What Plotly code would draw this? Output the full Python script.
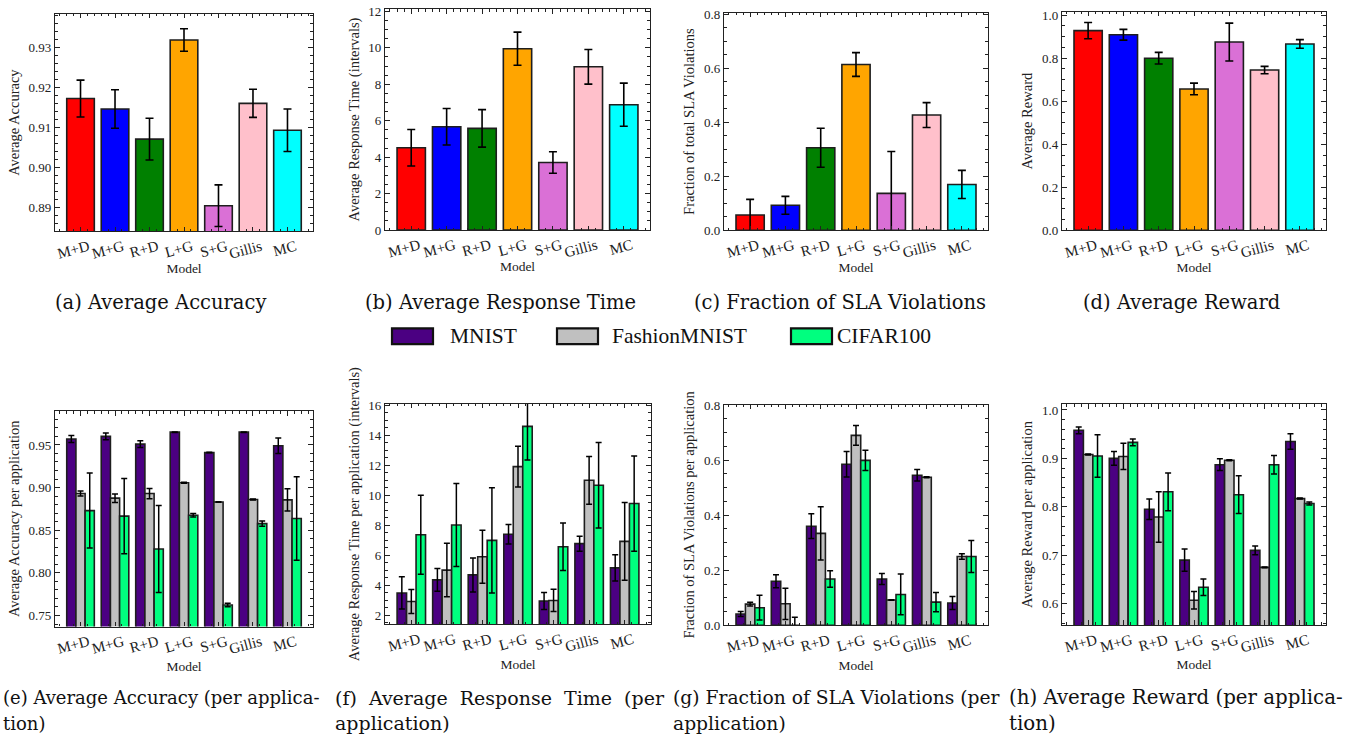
import plotly.graph_objects as go

W, H = 1353, 745


def px(x):
    return x / W


def py(y):
    return 1 - y / H


models = ["M+D", "M+G", "R+D", "L+G", "S+G", "Gillis", "MC"]
model_colors = ["#FF0000", "#0000FF", "#008000", "#FFA500", "#DA70D6", "#FFC0CB", "#00FFFF"]

acc_mean = [0.9172, 0.9146, 0.9071, 0.9318, 0.8905, 0.9160, 0.9093]
acc_err = [0.0046, 0.0048, 0.0052, 0.0028, 0.0052, 0.0035, 0.0053]
rt_mean = [4.52, 5.67, 5.58, 9.95, 3.71, 8.96, 6.88]
rt_err = [1.0, 1.0, 1.03, 0.91, 0.59, 0.95, 1.18]
sla_mean = [0.057, 0.093, 0.306, 0.614, 0.137, 0.427, 0.170]
sla_err = [0.058, 0.033, 0.072, 0.044, 0.155, 0.046, 0.052]
rew_mean = [0.928, 0.909, 0.800, 0.657, 0.875, 0.745, 0.866]
rew_err = [0.038, 0.025, 0.027, 0.027, 0.088, 0.017, 0.020]

datasets = ["MNIST", "FashionMNIST", "CIFAR100"]
dataset_colors = ["#4B0082", "#C0C0C0", "#00FF7F"]

app_acc_mean = [
    [0.957, 0.960, 0.951, 0.965, 0.941, 0.965, 0.949],
    [0.893, 0.8876, 0.893, 0.9056, 0.883, 0.886, 0.8856],
    [0.873, 0.8665, 0.828, 0.8676, 0.7623, 0.8577, 0.8638],
]
app_acc_err = [
    [0.004, 0.004, 0.004, 0.0003, 0.0003, 0.0003, 0.009],
    [0.003, 0.005, 0.006, 0.0005, 0.0003, 0.0005, 0.013],
    [0.044, 0.044, 0.051, 0.002, 0.002, 0.003, 0.049],
]
app_rt_mean = [
    [3.5, 4.37, 4.70, 7.41, 2.96, 6.78, 5.17],
    [2.93, 5.02, 5.91, 11.91, 3.0, 11.0, 6.93],
    [7.37, 8.02, 7.0, 14.59, 6.57, 10.67, 9.45],
]
app_rt_err = [
    [1.07, 0.76, 1.13, 0.65, 0.57, 0.5, 0.87],
    [0.8, 1.78, 1.76, 1.35, 0.74, 1.59, 2.59],
    [2.63, 2.76, 3.5, 2.24, 1.58, 2.85, 3.17],
]
app_sla_mean = [
    [0.041, 0.160, 0.360, 0.585, 0.168, 0.545, 0.081],
    [0.077, 0.078, 0.334, 0.690, 0.092, 0.538, 0.250],
    [0.064, 0.0, 0.168, 0.599, 0.112, 0.084, 0.250],
]
app_sla_err = [
    [0.009, 0.024, 0.045, 0.046, 0.02, 0.021, 0.024],
    [0.007, 0.057, 0.097, 0.036, 0.001, 0.002, 0.01],
    [0.045, 0.029, 0.03, 0.037, 0.074, 0.035, 0.058],
]
app_rew_mean = [
    [0.958, 0.900, 0.795, 0.690, 0.887, 0.710, 0.935],
    [0.908, 0.904, 0.779, 0.607, 0.896, 0.675, 0.817],
    [0.905, 0.933, 0.831, 0.634, 0.825, 0.887, 0.807],
]
app_rew_err = [
    [0.007, 0.014, 0.021, 0.023, 0.012, 0.009, 0.016],
    [0.001, 0.027, 0.052, 0.018, 0.001, 0.001, 0.001],
    [0.044, 0.007, 0.039, 0.017, 0.039, 0.019, 0.003],
]

top_captions = ["(a) Average Accuracy", "(b) Average Response Time",
                "(c) Fraction of SLA Violations", "(d) Average Reward"]
bottom_captions = [
    ["(e) Average Accuracy (per applica-", "tion)"],
    ["(f)  Average  Response  Time  (per", "application)"],
    ["(g) Fraction of SLA Violations (per", "application)"],
    ["(h) Average Reward (per applica-", "tion)"],
]

FONT = "Liberation Serif"
CAP_FONT = "DejaVu Serif"
EDGE = "#1e1e1e"

# panel geometry in pixels: (x0, x1, ytop, ybottom)
panels = [
    (55, 313, 7, 229), (385, 650, 2, 227.7), (724, 988, 6, 228), (1062, 1326, 5, 228),
    (55, 313, 412.3, 632.3), (385, 651, 405, 630), (724, 988, 405.7, 631), (1062, 1326, 405.3, 630.7),
]
yspecs = [
    ("Average Accuracy", [0.8841, 0.9383], 0.01, 0.002, ".2f"),
    ("Average Response Time (intervals)", [0, 12.13], 2, 0.5, "d"),
    ("Fraction of total SLA Violations", [0, 0.805], 0.2, 0.05, ".1f"),
    ("Average Reward", [0, 1.015], 0.2, 0.05, ".1f"),
    ("Average Accuracy per application", [0.737, 0.9898], 0.05, 0.01, ".2f"),
    ("Average Response Time per application (intervals)", [1.41, 16.09], 2, 0.5, "d"),
    ("Fraction of SLA Violations per application", [0, 0.802], 0.2, 0.05, ".1f"),
    ("Average Reward per application", [0.556, 1.012], 0.1, 0.02, ".1f"),
]

fig = go.Figure()
xs = list(range(len(models)))

top_data = [(acc_mean, acc_err), (rt_mean, rt_err), (sla_mean, sla_err), (rew_mean, rew_err)]
for i, (m, e) in enumerate(top_data):
    sfx = "" if i == 0 else str(i + 1)
    fig.add_trace(go.Bar(
        x=xs, y=m, xaxis="x" + sfx, yaxis="y" + sfx,
        marker=dict(color=model_colors, line=dict(color=EDGE, width=1.6)),
        error_y=dict(type="data", array=e, color="black", thickness=1.6, width=4),
        showlegend=False,
    ))

bottom_data = [(app_acc_mean, app_acc_err), (app_rt_mean, app_rt_err),
               (app_sla_mean, app_sla_err), (app_rew_mean, app_rew_err)]
for i, (mm, ee) in enumerate(bottom_data):
    sfx = str(i + 5)
    for d, name in enumerate(datasets):
        fig.add_trace(go.Bar(
            x=xs, y=mm[d], name=name, xaxis="x" + sfx, yaxis="y" + sfx,
            marker=dict(color=dataset_colors[d], line=dict(color=EDGE, width=1.6)),
            error_y=dict(type="data", array=ee[d], color="black", thickness=1.5, width=3),
            showlegend=False,
        ))

layout = dict(
    width=W, height=H, margin=dict(l=0, r=0, t=0, b=0),
    paper_bgcolor="white", plot_bgcolor="white",
    barmode="group", bargap=0.2, bargroupgap=0,
    font=dict(family=FONT, color="#222"),
)
for i, (x0, x1, yt, yb) in enumerate(panels):
    sfx = "" if i == 0 else str(i + 1)
    title, rng, dt, mdt, fmt = yspecs[i]
    layout["xaxis" + sfx] = dict(
        domain=[px(x0), px(x1)], anchor="y" + sfx, range=[-0.74, 6.74],
        tickmode="array", tickvals=xs, ticktext=models, tickangle=-15, ticklabelshift=8,
        tickfont=dict(size=15, family=FONT), ticks="inside", ticklen=4.5, tickwidth=1,
        tickcolor="#222", showline=True, linecolor="#222", linewidth=1.2, mirror="allticks",
        showgrid=False, zeroline=False,
        minor=dict(ticks="inside", dtick=0.2, tick0=0, ticklen=2.5, tickcolor="#222", showgrid=False),
        title=dict(text="Model", font=dict(size=13.5, family=FONT), standoff=2 if i < 4 else 5),
    )
    layout["yaxis" + sfx] = dict(
        domain=[py(yb), py(yt)], anchor="x" + sfx, range=rng,
        tickmode="linear", tick0=0, dtick=dt, tickformat=fmt,
        tickfont=dict(size=13, family=FONT), ticks="inside", ticklen=4.5, tickwidth=1,
        tickcolor="#222", showline=True, linecolor="#222", linewidth=1.2, mirror="allticks",
        showgrid=False, zeroline=False,
        minor=dict(ticks="inside", dtick=mdt, tick0=0, ticklen=2.5, tickcolor="#222", showgrid=False),
        title=dict(text=title, font=dict(size=14.5, family=FONT), standoff=5),
    )

annotations = []
top_centers = [160, 500, 840, 1181]
for c, txt in zip(top_centers, top_captions):
    annotations.append(dict(text=txt, x=px(c), y=py(302), xref="paper", yref="paper",
                            showarrow=False, xanchor="center", yanchor="middle",
                            font=dict(size=19.5, family=CAP_FONT, color="#111")))
bottom_lefts = [1, 333, 671, 1007]
bottom_sizes = [18.0, 19, 18.7, 19.8]
for xl, fs, (l1, l2) in zip(bottom_lefts, bottom_sizes, bottom_captions):
    annotations.append(dict(text=l1, x=px(xl), y=py(705), xref="paper", yref="paper",
                            showarrow=False, xanchor="left", yanchor="middle",
                            font=dict(size=fs, family=CAP_FONT, color="#111")))
    annotations.append(dict(text=l2, x=px(xl), y=py(731), xref="paper", yref="paper",
                            showarrow=False, xanchor="left", yanchor="middle",
                            font=dict(size=fs, family=CAP_FONT, color="#111")))

# custom legend
shapes = []
leg_patch_x = [392, 557, 791]
leg_text_x = [448, 610, 835]
for lx, tx, name, col in zip(leg_patch_x, leg_text_x, datasets, dataset_colors):
    shapes.append(dict(type="rect", xref="paper", yref="paper",
                       x0=px(lx), x1=px(lx + 41), y0=py(344), y1=py(328),
                       fillcolor=col, line=dict(color="#111", width=2.2)))
    annotations.append(dict(text=name, x=px(tx), y=py(336), xref="paper", yref="paper",
                            showarrow=False, xanchor="left", yanchor="middle",
                            font=dict(size=21.5, family=FONT, color="#111")))

layout["annotations"] = annotations
layout["shapes"] = shapes
fig.update_layout(**layout)
fig.write_html("out.html", config={"displayModeBar": False},
               post_script="document.body.style.margin='0px';document.body.style.overflow='hidden';")
